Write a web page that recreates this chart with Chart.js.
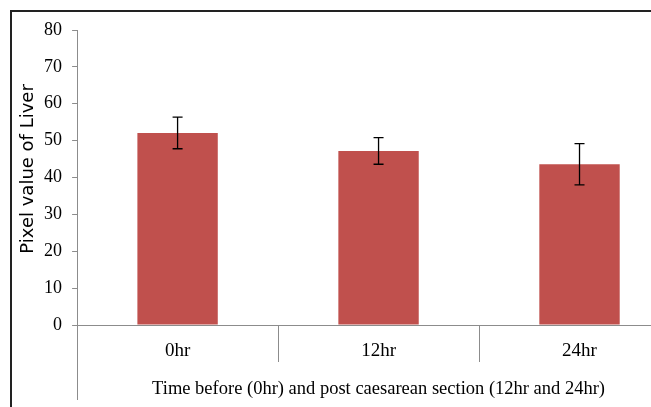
<!DOCTYPE html>
<html>
<head>
<meta charset="utf-8">
<script src="https://cdn.jsdelivr.net/npm/chart.js@4"></script>
<style>
  html, body { margin: 0; padding: 0; background: #fff; overflow: hidden; }
  #wrap { position: relative; width: 651px; height: 407px; overflow: hidden; }
  #frame { position: absolute; left: 10px; top: 10px; width: 700px; height: 420px;
           border-left: 2px solid #222; border-top: 2px solid #222; box-sizing: border-box; }
  #c { position: absolute; left: 0; top: 0; }
</style>
</head>
<body>
<div id="wrap">
  <div id="frame"></div>
  <canvas id="c" width="720" height="407" style="width:720px;height:407px"></canvas>
</div>
<script>
// values
const categories = ['0hr', '12hr', '24hr'];
const means = [52.1, 47.2, 43.6];
const errors = [4.3, 3.6, 5.6];   // +/- error bar size
const yTicks = [0, 10, 20, 30, 40, 50, 60, 70, 80];

const barColor = '#C0504D';
const axisGray = '#8c8c8c';

// draws the error bars through the y scale, and the long first divider line
const errorBars = {
  id: 'errorBars',
  afterDatasetsDraw(chart) {
    const ctx = chart.ctx;
    const y = chart.scales.y;
    const meta = chart.getDatasetMeta(0);
    ctx.save();
    ctx.strokeStyle = '#000';
    ctx.lineWidth = 1.3;
    meta.data.forEach((bar, i) => {
      const top = y.getPixelForValue(means[i] + errors[i]);
      const bot = y.getPixelForValue(means[i] - errors[i]);
      ctx.beginPath();
      ctx.moveTo(bar.x, top); ctx.lineTo(bar.x, bot);
      ctx.moveTo(bar.x - 5, top); ctx.lineTo(bar.x + 5, top);
      ctx.moveTo(bar.x - 5, bot); ctx.lineTo(bar.x + 5, bot);
      ctx.stroke();
    });
    ctx.restore();
  },
  afterDraw(chart) {
    const ctx = chart.ctx;
    const area = chart.chartArea;
    ctx.save();
    ctx.strokeStyle = axisGray;
    ctx.lineWidth = 1;
    ctx.beginPath();
    ctx.moveTo(Math.round(area.left) + 0.5, area.bottom);
    ctx.lineTo(Math.round(area.left) + 0.5, 400);
    ctx.stroke();
    ctx.restore();
  }
};

new Chart(document.getElementById('c'), {
  type: 'bar',
  data: {
    labels: categories,
    datasets: [{
      label: 'Pixel value of Liver',
      data: means,
      backgroundColor: barColor,
      borderWidth: 0,
      barPercentage: 0.4,
      categoryPercentage: 1.0
    }]
  },
  options: {
    responsive: false,
    animation: false,
    events: [],
    layout: { padding: { top: 30, right: 40, left: 0, bottom: 0 } },
    plugins: {
      legend: { display: false },
      tooltip: { enabled: false }
    },
    scales: {
      x: {
        offset: true,
        grid: { offset: true, drawOnChartArea: false, tickLength: 37, color: axisGray },
        border: { color: axisGray },
        ticks: {
          padding: -22,
          color: '#000',
          font: { family: 'Liberation Serif', size: 19 }
        },
        title: {
          display: true,
          text: 'Time before (0hr) and post caesarean section (12hr and 24hr)',
          color: '#000',
          font: { family: 'Liberation Serif', size: 18.5 },
          padding: { top: 37, bottom: 7 }
        }
      },
      y: {
        min: 0,
        max: 80,
        afterBuildTicks(scale) {
          scale.ticks = yTicks.map(v => ({ value: v }));
        },
        grid: { drawOnChartArea: false, tickLength: 5, color: axisGray },
        border: { color: axisGray },
        ticks: {
          padding: 10,
          color: '#000',
          font: { family: 'Liberation Serif', size: 18 }
        },
        title: {
          display: true,
          text: '   Pixel value of Liver',
          color: '#000',
          font: { family: 'DejaVu Sans', size: 18 },
          padding: { top: 18, bottom: -5.5 }
        }
      }
    }
  },
  plugins: [errorBars]
});
</script>
</body>
</html>
